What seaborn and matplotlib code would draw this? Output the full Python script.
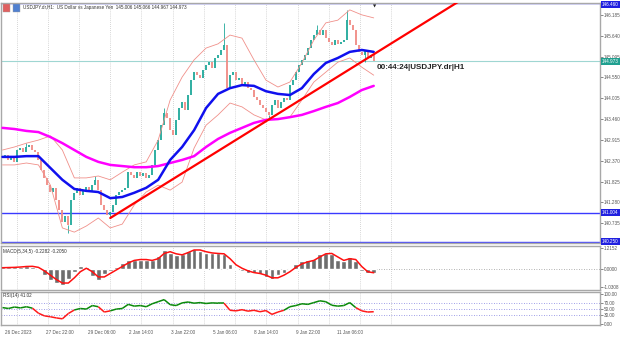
import numpy as np
import matplotlib
matplotlib.use("Agg")
import matplotlib.pyplot as plt
import matplotlib.transforms as mtrans
from matplotlib.collections import LineCollection
from matplotlib.patches import Rectangle
import seaborn as sns

sns.set_style("white")
plt.rcParams["font.family"] = ["Liberation Sans", "DejaVu Sans"]

# USDJPY.dr H1 - closes (one value every ~2-3 bars)
closes = [142.44, 142.52, 142.39, 142.47, 142.34, 142.65, 142.70, 142.60, 142.73, 142.78,
          142.65, 142.60, 142.39, 142.13, 141.92, 141.73, 141.55, 141.66, 141.34, 141.08,
          140.77, 140.92, 140.69, 141.34, 141.53, 141.66, 141.47, 141.60, 141.68, 141.55,
          141.73, 141.87, 141.60, 141.21, 141.08, 140.95, 141.03, 141.21, 141.47, 141.55,
          141.60, 141.66, 142.07, 142.00, 141.92, 142.07, 141.97, 142.05, 141.92, 142.00,
          142.26, 142.65, 142.91, 143.30, 143.62, 143.49, 143.17, 143.04, 143.44, 143.75,
          143.91, 143.70, 144.09, 144.48, 144.69, 144.61, 144.53, 144.74, 144.88, 144.95,
          144.80, 145.06, 145.14, 145.27, 145.40, 144.27, 144.61, 144.69, 144.48, 144.53,
          144.35, 144.43, 144.27, 144.22, 144.04, 143.96, 143.83, 143.75, 143.65, 143.57,
          143.83, 143.96, 143.75, 143.91, 144.01, 143.96, 144.35, 144.48, 144.69, 144.88,
          145.01, 145.14, 145.32, 145.53, 145.66, 145.79, 145.66, 145.79, 145.58, 145.48,
          145.40, 145.53, 145.43, 145.48, 145.53, 146.05, 145.92, 145.79, 145.40, 145.22,
          145.14, 145.27, 145.06, 145.14, 144.973]
wick_bar = [8, 22, 31, 36, 54, 74, 89, 105, 115, 121]
wick_price = [142.83, 140.48, 141.97, 140.87, 143.75, 145.98, 143.49, 145.92, 146.32, 144.95]

# moving averages and bollinger bands (one value every 4 bars)
ma_fast = [142.47, 142.47, 142.49, 142.49, 142.18, 141.87, 141.63, 141.58, 141.55, 141.39,
           141.42, 141.53, 141.66, 141.87, 142.39, 142.73, 143.17, 143.75, 144.12, 144.27,
           144.35, 144.33, 144.19, 144.12, 144.09, 144.27, 144.64, 144.93, 145.06, 145.22,
           145.27, 145.22]
ma_slow = [143.23, 143.20, 143.15, 143.12, 142.99, 142.83, 142.65, 142.47, 142.34, 142.26,
           142.23, 142.20, 142.20, 142.23, 142.31, 142.39, 142.49, 142.73, 142.94, 143.10,
           143.23, 143.36, 143.44, 143.46, 143.51, 143.57, 143.67, 143.78, 143.88, 144.04,
           144.22, 144.33]
bb_upper = [142.65, 142.73, 142.83, 142.91, 143.02, 142.65, 141.92, 141.92, 141.97, 141.87,
            142.07, 142.26, 142.34, 142.91, 143.96, 144.56, 145.01, 145.32, 145.43, 145.66,
            145.58, 145.01, 144.48, 144.30, 144.43, 144.93, 145.53, 145.98, 146.05, 146.32,
            146.19, 146.11]
bb_lower = [142.26, 142.26, 142.31, 142.26, 141.73, 140.61, 140.50, 140.66, 140.87, 140.61,
            140.71, 141.21, 141.55, 141.73, 141.60, 141.81, 142.70, 143.30, 143.57, 143.88,
            143.78, 143.57, 143.44, 143.46, 143.51, 143.96, 144.43, 144.69, 144.95, 145.06,
            144.82, 144.61]
trend_bar = [36, 160]
trend_price = [140.87, 146.91]
h_levels = [146.49, 141.004, 140.25]
last_price = 144.973

# MACD(5,34,5) and RSI(14), one value every 2 bars
macd_hist = [0.10, 0.10, 0.12, 0.15, 0.18, 0.13, 0.00, -0.35, -0.60, -0.80,
             -0.90, -0.55, -0.15, 0.20, 0.10, -0.40, -0.60, -0.30, -0.10, 0.15,
             0.35, 0.55, 0.55, 0.55, 0.55, 0.50, 0.75, 1.10, 0.95, 0.80,
             0.85, 1.05, 1.15, 1.05, 0.95, 0.90, 0.90, 0.85, 0.30, 0.05,
             -0.10, -0.20, -0.25, -0.30, -0.45, -0.55, -0.35, -0.20, 0.05, 0.30,
             0.45, 0.50, 0.60, 0.85, 0.95, 0.85, 0.55, 0.45, 0.70, 0.45,
             -0.10, -0.25, -0.23]
macd_signal = [0.08, 0.09, 0.10, 0.12, 0.15, 0.16, 0.10, -0.10, -0.35, -0.60,
               -0.80, -0.80, -0.50, -0.15, 0.05, -0.15, -0.45, -0.45, -0.25, -0.05,
               0.15, 0.35, 0.50, 0.55, 0.55, 0.50, 0.60, 0.90, 1.00, 0.88,
               0.82, 0.95, 1.10, 1.10, 1.00, 0.93, 0.90, 0.88, 0.60, 0.25,
               0.05, -0.10, -0.20, -0.25, -0.35, -0.50, -0.50, -0.35, -0.15, 0.10,
               0.30, 0.42, 0.50, 0.70, 0.88, 0.90, 0.70, 0.50, 0.60, 0.55,
               0.15, -0.15, -0.21]
rsi = [55, 52, 57, 54, 58, 53, 36, 27, 24, 20,
       17, 35, 47, 52, 50, 62, 58, 40, 44, 50,
       52, 66, 60, 62, 58, 68, 75, 82, 65, 62,
       71, 74, 70, 72, 69, 71, 70, 70, 46, 44,
       48, 43, 46, 41, 45, 32, 40, 46, 58, 62,
       68, 66, 72, 78, 75, 63, 60, 62, 72, 55,
       44, 40, 41.02]

price_ticks = [146.185, 145.640, 145.095, 144.550, 144.005, 143.460,
               142.915, 142.370, 141.825, 141.280, 140.735]
date_labels = ["26 Dec 2023", "27 Dec 22:00", "29 Dec 06:00", "2 Jan 14:00", "3 Jan 22:00",
               "5 Jan 06:00", "8 Jan 14:00", "9 Jan 22:00", "11 Jan 06:00"]

bars = np.arange(len(closes))
line_bars = np.arange(0, len(closes), 4)
osc_bars = np.arange(0, len(closes), 2)
grid_x = np.arange(4.7, 135, 10.43)
tick_x = np.arange(len(date_labels)) * 13.9 + 0.7

bull, bear = "#1fa89a", "#f08a84"
spine_c = "#a8a8a8"
fs = 3.3

fig = plt.figure(figsize=(6.25, 3.37), dpi=100)
ax = fig.add_axes([0.0016, 0.279, 0.958, 0.712])
ax_m = fig.add_axes([0.0016, 0.1395, 0.958, 0.1306], sharex=ax)
ax_r = fig.add_axes([0.0016, 0.0356, 0.958, 0.098], sharex=ax)

for a in (ax, ax_m, ax_r):
    for s in a.spines.values():
        s.set_color(spine_c)
        s.set_linewidth(1.0)
    for gx in grid_x:
        a.axvline(gx, color="#b0b0b0", lw=0.5, ls=(0, (1, 2)), zorder=0)
    a.yaxis.tick_right()
    a.tick_params(axis="y", length=2, width=0.5, labelsize=fs, pad=1, colors="#555555")
    a.tick_params(axis="x", length=0, labelbottom=False)

# ---- price panel
ax.axhline(last_price, color="#9fd6d2", lw=0.8, zorder=1)
for lv in h_levels:
    ax.axhline(lv, color="#3a3aff", lw=1.0, zorder=2)
ax.axhline(140.22, color="#9a9aff", lw=1.0, zorder=2)

c = np.array(closes)
o = np.r_[c[0], c[:-1]]
up = c >= o
ax.vlines(bars[up], o[up], c[up], color=bull, lw=1.3, zorder=3)
ax.vlines(bars[~up], c[~up], o[~up], color=bear, lw=1.3, zorder=3)
wb = np.array(wick_bar)
ax.vlines(wb, c[wb], wick_price, color=bull, lw=0.6, zorder=3)

for band in (bb_upper, bb_lower):
    sns.lineplot(x=line_bars, y=band, ax=ax, color="#f0908a", lw=0.6, legend=False, zorder=4)
sns.lineplot(x=line_bars, y=ma_slow, ax=ax, color="#ff00ff", lw=1.8, legend=False, zorder=5)
sns.lineplot(x=line_bars, y=ma_fast, ax=ax, color="#1010ee", lw=1.8, legend=False, zorder=6)
sns.lineplot(x=trend_bar, y=trend_price, ax=ax, color="#ff0000", lw=1.6, legend=False, zorder=7)

ax.set_xlim(-0.5, 199.5)
ax.set_ylim(140.216, 146.499)
ax.set_yticks(price_ticks)
ax.set_yticklabels([f"{v:.3f}" for v in price_ticks])
ax.set_xlabel("")
ax.set_ylabel("")

bt = mtrans.blended_transform_factory(ax.transAxes, ax.transData)
for val, fc in [(146.46, "#2020e0"), (last_price, "#20a090"), (141.004, "#2020e0"), (140.25, "#2020e0")]:
    ax.text(1.004, val, f"{val:.3f}", transform=bt, fontsize=fs, color="white", va="center",
            ha="left", clip_on=False, bbox=dict(boxstyle="square,pad=0.2", fc=fc, ec="none"))

ax.text(125, 144.80, "00:44:24|USDJPY.dr|H1", fontsize=5.8, fontweight="bold",
        color="#222222", va="center", ha="left")
ax.text(124.3, 146.42, "\u25bc", fontsize=3, color="#222222", ha="center", va="center",
        family="DejaVu Sans")

# header with the two little icons
fig.add_artist(Rectangle((3 / 625, 1 - 12 / 337), 7 / 625, 8 / 337, fc="#e06060", ec="#a0a0a0", lw=0.3))
fig.add_artist(Rectangle((13 / 625, 1 - 12 / 337), 7 / 625, 8 / 337, fc="#5080d0", ec="#a0a0a0", lw=0.3))
fig.text(23 / 625, 1 - 8 / 337, "USDJPY.dr,H1:  US Dollar vs Japanese Yen  145.006 145.066 144.967 144.973",
         fontsize=fs, color="#333333", va="center", ha="left")

# ---- MACD panel
ax_m.axhline(0, color="#999999", lw=0.6, ls=(0, (1, 2)), zorder=1)
ax_m.bar(osc_bars, macd_hist, width=1.6, color="#6e6e6e", zorder=2)
sns.lineplot(x=osc_bars, y=macd_signal, ax=ax_m, color="#ff1010", lw=1.1, legend=False, zorder=3)
ax_m.set_ylim(-1.2, 1.33)
ax_m.set_yticks([1.2152, 0.0, -1.0308])
ax_m.set_yticklabels(["1.2152", "0.0000", "-1.0308"])
ax_m.set_xlabel("")
ax_m.set_ylabel("")
ax_m.text(0.004, 0.93, "MACD(5,34,5) -0.2282 -0.2050", transform=ax_m.transAxes,
          fontsize=fs, color="#333333", va="top", ha="left")

# ---- RSI panel
for lv in (70, 50, 30):
    ax_r.axhline(lv, color="#8080e0", lw=0.6, ls=(0, (1, 2)), zorder=1)
sns.lineplot(x=osc_bars, y=rsi, ax=ax_r, color="none", lw=0, legend=False)
pts = np.column_stack([osc_bars, rsi])
segs = np.stack([pts[:-1], pts[1:]], axis=1)
cols = ["#0a8a0a" if v >= 50 else "#ff1a1a" for v in rsi[1:]]
ax_r.add_collection(LineCollection(segs, colors=cols, lw=1.1, zorder=3))
ax_r.set_ylim(-4, 108)
ax_r.set_yticks([100, 70, 50, 30, 0])
ax_r.set_yticklabels(["100.00", "70.00", "50.00", "30.00", "0.00"])
ax_r.set_xlabel("")
ax_r.set_ylabel("")
ax_r.text(0.004, 0.96, "RSI(14) 41.02", transform=ax_r.transAxes,
          fontsize=fs, color="#333333", va="top", ha="left")
ax_r.set_xticks(tick_x)
ax_r.set_xticklabels(date_labels)
ax_r.tick_params(axis="x", labelbottom=True, length=2, width=0.5, labelsize=fs, pad=1.5,
                 colors="#555555")
for lab in ax_r.get_xticklabels():
    lab.set_ha("left")

ax.set_xlim(-0.5, 199.5)
fig.savefig("out.png", dpi=100, facecolor="white")
